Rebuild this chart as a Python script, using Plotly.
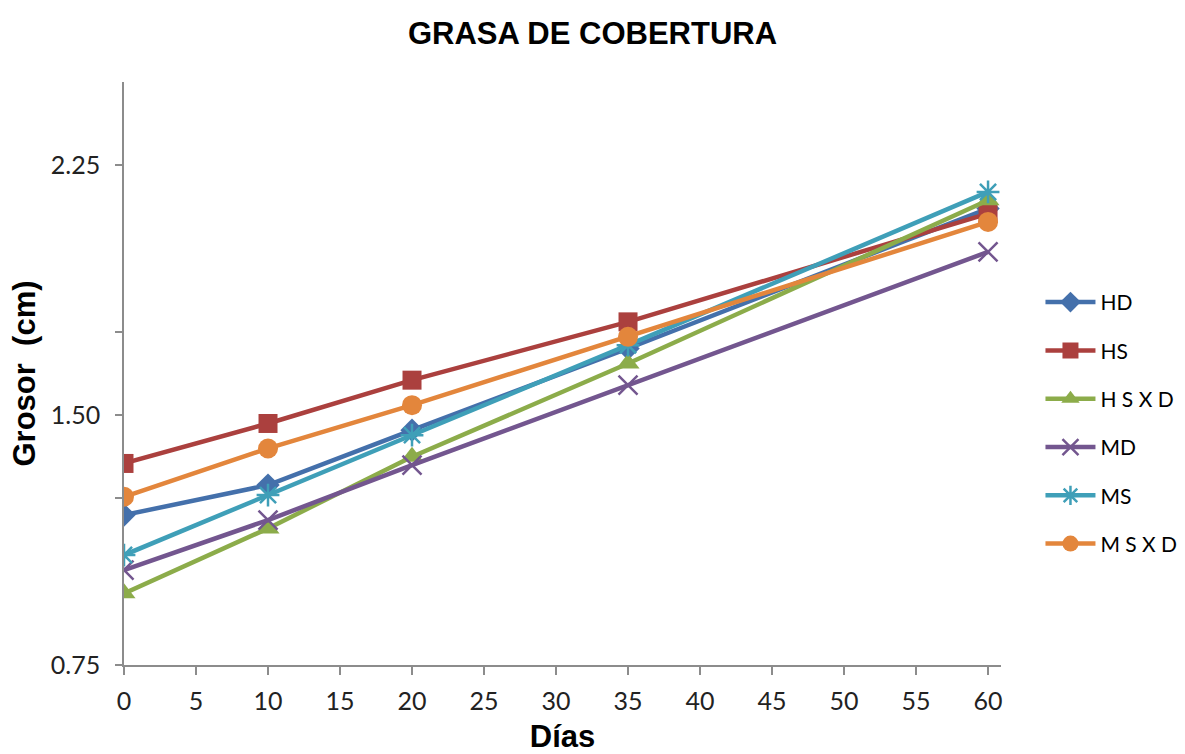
import plotly.graph_objects as go

# Días de medición
dias = [0, 10, 20, 35, 60]

# Grosor de grasa de cobertura (cm) por tratamiento
hd = [1.20, 1.29, 1.455, 1.70, 2.12]
hs = [1.355, 1.475, 1.605, 1.78, 2.105]
hsxd = [0.965, 1.16, 1.375, 1.655, 2.145]
md = [1.035, 1.185, 1.35, 1.59, 1.99]
ms = [1.08, 1.26, 1.44, 1.71, 2.17]
msxd = [1.255, 1.40, 1.53, 1.735, 2.08]

series_names = ["HD", "HS", "H S X D", "MD", "MS", "M S X D"]
series_values = [hd, hs, hsxd, md, ms, msxd]

x_ticks = [0, 5, 10, 15, 20, 25, 30, 35, 40, 45, 50, 55, 60]
y_ticks = [0.75, 1.25, 1.50, 1.75, 2.25]
y_tick_text = ["0.75", "", "1.50", "", "2.25"]

styles = [
    dict(color="#4470AB", symbol="diamond", size=18, lw=0),
    dict(color="#AB403E", symbol="square", size=19, lw=0),
    dict(color="#8CAC4A", symbol="triangle-up", size=20, lw=0),
    dict(color="#73568F", symbol="x-thin-open", size=19, lw=2.5),
    dict(color="#3F9FB8", symbol="asterisk-open", size=19, lw=2.5),
    dict(color="#E3863C", symbol="circle", size=20, lw=0),
]

title_font = "Liberation Sans, Arial"
label_font = "Lato, Open Sans"

fig = go.Figure()
for name, vals, st in zip(series_names, series_values, styles):
    fig.add_trace(go.Scatter(
        x=dias, y=vals, name=name, mode="lines+markers",
        legendgroup=name,
        line=dict(color=st["color"], width=4.5),
        marker=dict(symbol=st["symbol"], size=st["size"], color=st["color"],
                    line=dict(color=st["color"], width=st["lw"])),
    ))

fig.update_layout(
    width=1185, height=754,
    margin=dict(l=124, r=184, t=82, b=89, autoexpand=False),
    paper_bgcolor="white", plot_bgcolor="white",
    title=dict(text="<b>GRASA DE COBERTURA</b>", x=0.5, xanchor="center",
               y=0.956, yanchor="middle",
               font=dict(family=title_font, size=31, color="black")),
    showlegend=True,
    legend=dict(x=1.045, y=0.657, xanchor="left", yanchor="top",
                font=dict(family=label_font, size=21, color="black"),
                tracegroupgap=18, itemwidth=50),
)

fig.update_xaxes(
    range=[0, 60.9], tickvals=x_ticks, ticktext=[str(v) for v in x_ticks],
    showgrid=False, zeroline=False, showline=True, linecolor="#8c8c8c", linewidth=1.5,
    ticks="outside", ticklen=8, tickcolor="#8c8c8c", tickwidth=1.5,
    ticklabelstandoff=5, automargin=False,
    tickfont=dict(family=label_font, size=25, color="#222222"),
    title=dict(text="<b>Días</b>", standoff=20,
               font=dict(family=title_font, size=31, color="black")),
)
fig.update_yaxes(
    range=[0.75, 2.5], tickvals=y_ticks, ticktext=y_tick_text,
    showgrid=False, zeroline=False, showline=True, linecolor="#8c8c8c", linewidth=1.5,
    ticks="outside", ticklen=7, tickcolor="#8c8c8c", tickwidth=1.5,
    ticklabelstandoff=10, automargin=False,
    tickfont=dict(family=label_font, size=25, color="#222222"),
    title=dict(text="<b>Grosor  (cm)</b>", standoff=6,
               font=dict(family=title_font, size=31, color="black")),
)

fig.write_html("out.html")
